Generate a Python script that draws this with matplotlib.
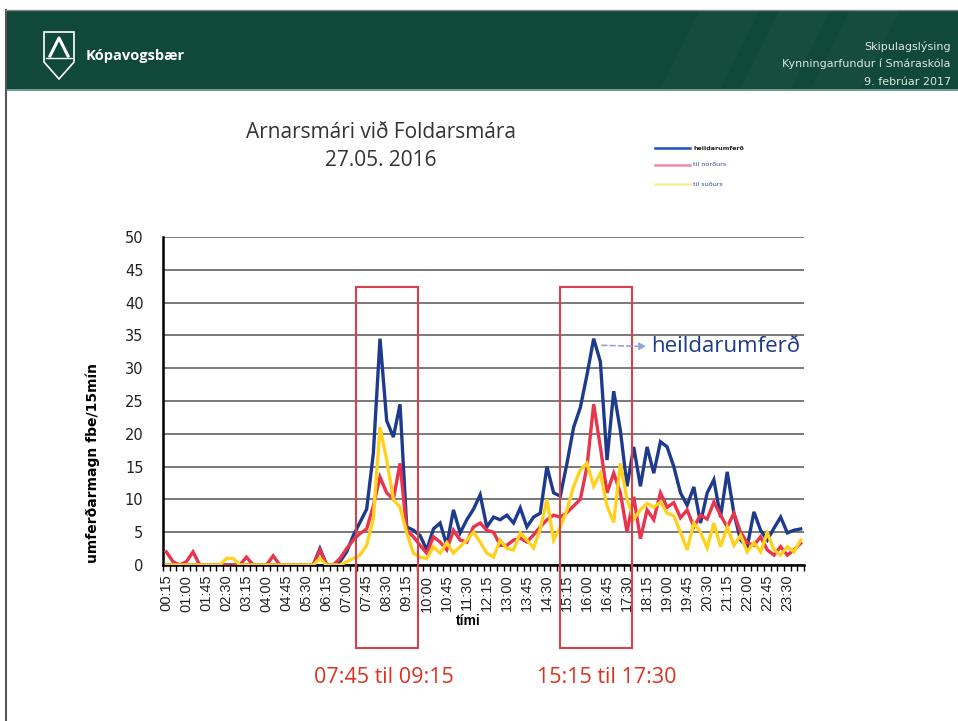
import matplotlib
matplotlib.use("Agg")
import matplotlib.pyplot as plt
from matplotlib.patches import Rectangle, Polygon
from matplotlib.lines import Line2D

# ---------------- data ----------------
time_labels = ["%02d:%02d" % (((i + 1) * 15) // 60, ((i + 1) * 15) % 60) for i in range(96)]
time_labels[-1] = "24:00"

heildarumferd = [0, 0, 0, 0, 0, 0, 0, 0, 0, 0, 0, 0, 0, 0, 0, 0, 0, 0, 0, 0, 0, 0, 0, 2.5, 0, 0,
                 0.5, 2, 4.5, 6.5, 8.5, 17, 34.5, 22, 19.5, 24.5, 5.8, 5.3, 4.5, 2.3,
                 5.5, 6.4, 3, 8.4, 4.9, 6.9, 8.5, 10.7, 5.8, 7.3, 6.9, 7.6, 6.4, 8.7,
                 5.8, 7.3, 7.9, 15, 11, 10.5, 15.5, 21, 24, 29, 34.5, 31, 16, 26.5,
                 20.5, 12, 18, 12, 18, 14, 18.8, 18, 15, 11, 9.1, 11.9, 6.4, 11, 13,
                 7.3, 14.2, 7.9, 3.8, 2.8, 8.1, 5.3, 3.8, 5.6, 7.3, 4.9, 5.3, 5.5]

til_nordurs = [2, 0.5, 0, 0.5, 2, 0, 0, 0, 0, 0, 0, 0, 1.2, 0, 0, 0, 1.4, 0, 0, 0, 0, 0, 0, 2.3, 0, 0,
               1, 2.5, 3.8, 4.8, 5.5, 9, 13.4, 11, 10, 15.5, 5.3, 4.3, 3, 1.8,
               4.3, 3.5, 2.3, 5.3, 3.8, 3.5, 5.8, 6.4, 5.3, 5, 3, 3, 3.8, 4.1,
               3.5, 4.6, 5.8, 6.9, 7.6, 7.3, 8, 9, 10, 15, 24.5, 18, 11, 14,
               11, 5, 10.4, 4, 8.4, 6.9, 11, 8.8, 9.5, 7.2, 8.4, 5.8, 7.6, 7, 9.6,
               7.6, 5.8, 7.9, 5, 3.4, 3, 4.3, 2.3, 1.5, 2.8, 1.5, 2.3, 3.3]

til_sudurs = [0, 0, 0, 0, 0, 0, 0, 0, 0, 1, 1, 0, 0, 0, 0, 0, 0, 0, 0, 0, 0, 0, 0, 1, 0, 0,
              0, 0.5, 1, 1.5, 3, 7, 21, 16, 10, 8.8, 4.9, 1.8, 1.2, 1,
              2.8, 1.8, 3.4, 1.8, 2.8, 3.8, 5, 3.5, 1.8, 1.2, 3.8, 2.5, 2.3, 4.9,
              3.8, 2.6, 5.5, 10, 3.8, 5.8, 8.4, 12, 14.5, 15.5, 12, 14, 9, 6.5,
              15.5, 10, 7, 8.4, 9.4, 8.8, 9.6, 7.9, 7.5, 5, 2.3, 6.4, 5, 2.6, 6.4,
              2.8, 5.8, 3, 4.5, 2, 3.4, 2, 4.9, 2.3, 1.5, 2.8, 2, 3.8]

series_names = ["heildarumferð", "til norðurs", "til suðurs"]
box_ranges = [(28.4, 37.7), (58.9, 69.7)]
box_texts = ["07:45 til 09:15", "15:15 til 17:30"]
box_text_x = [32.6, 65.9]

# ---------------- figure ----------------
W, H = 958, 721
fig = plt.figure(figsize=(W / 100, H / 100), dpi=100)
fig.patch.set_facecolor("white")


def px(x, y):
    return (x / W, 1 - y / H)


# header band
band = Rectangle(px(6, 90), (W - 6) / W, 80 / H, transform=fig.transFigure,
                 facecolor="#104839", edgecolor="none", zorder=0)
fig.add_artist(band)
# subtle lighter diagonal texture at right
for (x0, x1, a) in [(700, 760, 0.025), (780, 830, 0.03), (850, 900, 0.025)]:
    fig.add_artist(Polygon([px(x0, 10), px(x1, 10), px(x1 - 40, 90), px(x0 - 40, 90)],
                           closed=True, transform=fig.transFigure, facecolor="white",
                           edgecolor="none", alpha=a, zorder=0.5))
band2 = Rectangle(px(6, 91), (W - 6) / W, 2 / H, transform=fig.transFigure,
                  facecolor="#6f9c94", edgecolor="none", zorder=1)
fig.add_artist(band2)
# scan border at left
fig.add_artist(Line2D([6 / W, 6 / W], [0, 1 - 10 / H], transform=fig.transFigure,
                      color="#555555", lw=1.5))
fig.add_artist(Line2D([6 / W, 1], [1 - 10 / H, 1 - 10 / H], transform=fig.transFigure,
                      color="#888888", lw=1))

# logo
shield = [px(44, 32), px(74, 32), px(74, 62), px(59, 79), px(44, 62)]
fig.add_artist(Polygon(shield, closed=True, transform=fig.transFigure, fill=False,
                       edgecolor="white", lw=1.2))
fig.add_artist(Line2D([px(50, 56)[0], px(59, 38)[0], px(68, 56)[0]],
                      [px(50, 56)[1], px(59, 38)[1], px(68, 56)[1]],
                      transform=fig.transFigure, color="white", lw=2.2))
fig.add_artist(Line2D([px(46, 58)[0], px(72, 58)[0]], [px(46, 58)[1], px(72, 58)[1]],
                      transform=fig.transFigure, color="white", lw=1))
fig.text(*px(86, 56), "Kópavogsbær", color="white", fontsize=10.5, fontweight="bold",
         family=["Open Sans", "DejaVu Sans"], ha="left", va="center")
for txt, yy in [("Skipulagslýsing", 47), ("Kynningarfundur í Smáraskóla", 64), ("9. febrúar 2017", 82)]:
    fig.text(*px(951, yy), txt, color="#dfe6e2", fontsize=8,
             family=["Liberation Sans Narrow", "DejaVu Sans"], ha="right", va="center")

# title
fig.text(*px(381, 133), "Arnarsmári við Foldarsmára", fontsize=15, color="#333333",
         family=["Open Sans", "DejaVu Sans"], ha="center", va="center")
fig.text(*px(381, 161), "27.05. 2016", fontsize=15, color="#333333",
         family=["Open Sans", "DejaVu Sans"], ha="center", va="center")

# ---------------- axes ----------------
left, right, bottom, top = 163, 804, 565, 237
ax = fig.add_axes([left / W, 1 - bottom / H, (right - left) / W, (bottom - top) / H])
x = list(range(len(time_labels)))

colors = ["#1d3a8c", "#e8344c", "#ffd21f"]
for vals, c, z in zip([heildarumferd, til_nordurs, til_sudurs], colors, [3, 4, 5]):
    ax.plot(x, vals, color=c, lw=2.4, zorder=z, solid_joinstyle="miter")

ax.set_xlim(-0.5, 95.5)
ax.set_ylim(0, 50)
ax.set_yticks(range(0, 51, 5))
ax.yaxis.grid(True, color="#555555", lw=1.1)
ax.set_axisbelow(True)
for s in ["top", "right"]:
    ax.spines[s].set_visible(False)
ax.spines["left"].set_linewidth(1.8)
ax.spines["bottom"].set_linewidth(1.8)
ax.tick_params(axis="y", length=0, pad=14, labelsize=10.5, labelcolor="#222222")
for lab in ax.get_yticklabels():
    lab.set_family(["Liberation Sans Narrow", "DejaVu Sans"])

ax.set_xticks(x[::3])
ax.set_xticklabels(time_labels[::3], rotation=90, fontsize=10.5,
                   family=["Liberation Sans", "DejaVu Sans"], color="#222222")
ax.set_xticks([i - 0.5 for i in range(97)], minor=True)
ax.tick_params(axis="x", which="major", length=0, pad=7)
ax.tick_params(axis="x", which="minor", length=4, width=1, direction="out")

fig.text(*px(468, 621), "tími", fontsize=10, fontweight="bold", ha="center", va="center",
         family=["Liberation Sans", "DejaVu Sans"])
fig.text(*px(93, 463), "umferðarmagn fbe/15mín", fontsize=10, fontweight="bold", rotation=90,
         ha="center", va="center", family=["Liberation Sans Narrow", "DejaVu Sans"])

# red boxes
for (x0, x1), t, tx in zip(box_ranges, box_texts, box_text_x):
    ax.add_patch(Rectangle((x0, -12.6), x1 - x0, 55.0, fill=False, edgecolor="#d8404a",
                           lw=1.5, clip_on=False, zorder=6))
    ax.text(tx, -17.1, t, color="#e0301e", fontsize=15.5, ha="center", va="center",
            family=["Open Sans", "DejaVu Sans"])

# heildarumferð annotation
peak_i = 64
ax.annotate("", xy=(72.3, heildarumferd[peak_i] - 1.2), xytext=(peak_i + 0.8, heildarumferd[peak_i] - 1.0),
            arrowprops=dict(arrowstyle="-|>", color="#8ea6cf", lw=1.2, ls=(0, (3, 2)),
                            mutation_scale=10), zorder=7)
ax.text(72.6, heildarumferd[peak_i] - 1.2, series_names[0], color="#1d3a8c", fontsize=16,
        ha="left", va="center", family=["Open Sans", "DejaVu Sans"])

# legend (top right, small)
leg_y = [148, 165, 184]
for name, c, yy in zip(series_names, ["#1f4fc0", "#f28aa6", "#f7f09a"], leg_y):
    fig.add_artist(Line2D([655 / W, 690 / W], [1 - yy / H, 1 - yy / H], transform=fig.transFigure,
                          color=c, lw=1.8))
    fig.text(693 / W, 1 - yy / H, name, fontsize=4.6, ha="left", va="center",
             color="#222222" if c == "#1f4fc0" else "#3a4a8a", fontweight="bold" if c == "#1f4fc0" else "normal")

fig.savefig("out.png", dpi=100, facecolor="white")
